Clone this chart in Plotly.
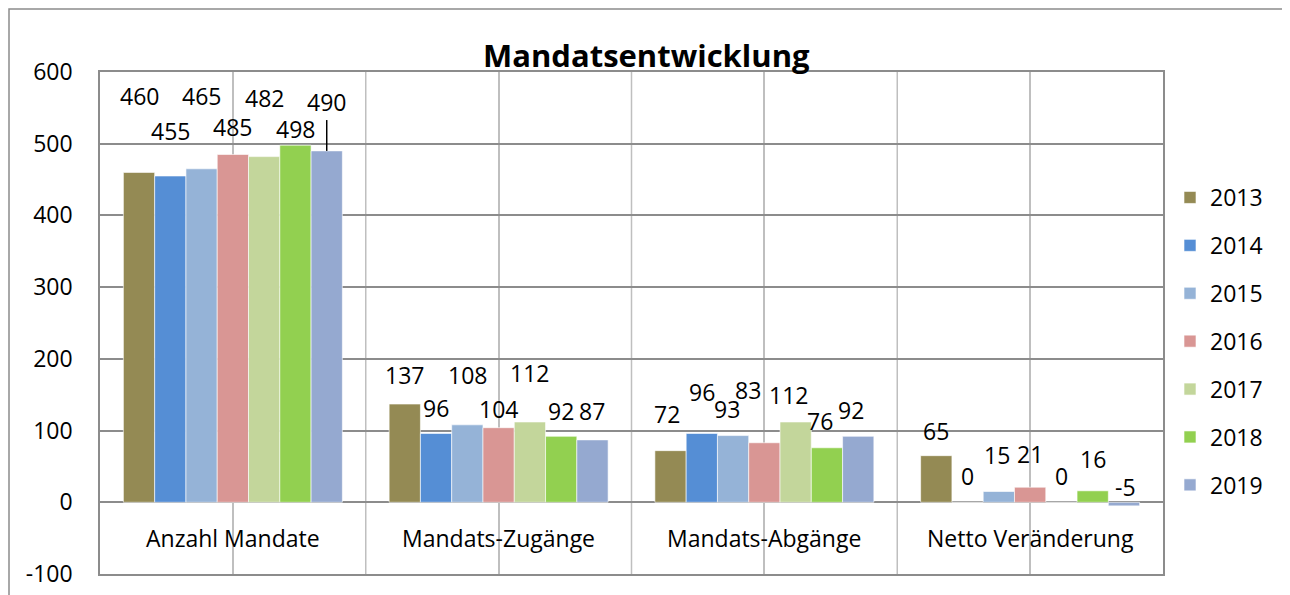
import plotly.graph_objects as go

categories = ["Anzahl Mandate", "Mandats-Zugänge", "Mandats-Abgänge", "Netto Veränderung"]
years = ["2013", "2014", "2015", "2016", "2017", "2018", "2019"]
v2013 = [460, 137, 72, 65]
v2014 = [455, 96, 96, 0]
v2015 = [465, 108, 93, 15]
v2016 = [485, 104, 83, 21]
v2017 = [482, 112, 112, 0]
v2018 = [498, 92, 76, 16]
v2019 = [490, 87, 92, -5]
series = [v2013, v2014, v2015, v2016, v2017, v2018, v2019]
colors = ["#948A54", "#558ED5", "#95B3D7", "#D99694", "#C3D69B", "#92D050", "#95A9D0"]
y_ticks = [-100, 0, 100, 200, 300, 400, 500, 600]

# label offsets above bar value (data units), per year, per category
label_dy = [
    [106, 40, 51, 35],
    [63, 36, 58, 36],
    [101, 70, 37, 51],
    [38, 26, 74, 47],
    [82, 68, 38, 36],
    [22, 35, 38, 45],
    [68, 40, 37, 27],
]
# horizontal label shifts (px)
label_dx = [
    [0, 0, -4, 0],
    [0, 0, 0, 0],
    [0, 0, -6, -2],
    [0, 0, -16, 0],
    [0, 0, -7, 0],
    [0, 0, -7, 0],
    [0, 0, -7, 2],
]

FONT = "Open Sans"
FS = 23
OX, OY = 8, 8  # page body margin compensation
W, H = 1290 - OX, 595 - OY
L, R, T, B = 100 - OX, 1163 - OX, 72 - OY, 574 - OY
BARGAP = 0.176


def px2paper_x(px):
    return (px - OX - L) / (R - L)


def px2paper_y(py):
    return (B - (py - OY)) / (B - T)


fig = go.Figure()
for k, (yr, vals, col) in enumerate(zip(years, series, colors)):
    fig.add_trace(go.Bar(
        x=list(range(len(categories))), y=vals, name=yr,
        marker=dict(color=col, line=dict(color="rgba(255,255,255,0.6)", width=1)),
        legendgroup=yr,
    ))

annotations = []
nser = len(years)
w = (1 - BARGAP) / nser
for k, vals in enumerate(series):
    for i, v in enumerate(vals):
        annotations.append(dict(
            x=i + (k - (nser - 1) / 2) * w, y=v + label_dy[k][i], xref="x", yref="y",
            text=str(v), showarrow=False, xshift=label_dx[k][i],
            font=dict(family=FONT, size=FS, color="#000000"),
        ))
# leader line for 2019 label in first category
k = 6
fig.add_shape(type="line", xref="x", yref="y",
              x0=0 + (k - 3) * w, x1=0 + (k - 3) * w,
              y0=series[k][0], y1=series[k][0] + 43,
              line=dict(color="#000000", width=1.5))

for i, c in enumerate(categories):
    annotations.append(dict(x=i, y=-50, xref="x", yref="y", text=c, showarrow=False,
                            font=dict(family=FONT, size=FS, color="#000000")))

annotations.append(dict(x=px2paper_x(646), y=px2paper_y(55), xref="paper", yref="paper",
                        xanchor="center", yanchor="middle",
                        text="<b>Mandatsentwicklung</b>", showarrow=False,
                        font=dict(family=FONT, size=31, color="#000000")))

# category boundaries gridlines
for i in range(1, len(categories)):
    fig.add_shape(type="line", xref="x", yref="paper", x0=i - 0.5, x1=i - 0.5, y0=0, y1=1,
                  line=dict(color="#BFBFBF", width=1.5), layer="below")

# outer chart border
fig.add_shape(type="path", xref="paper", yref="paper",
              path=f"M {px2paper_x(9)},{px2paper_y(610)} L {px2paper_x(9)},{px2paper_y(9)} "
                   f"L {px2paper_x(1288)},{px2paper_y(9)} L {px2paper_x(1288)},{px2paper_y(610)}",
              line=dict(color="#8C8C8C", width=1.5))

fig.update_layout(
    width=W, height=H,
    margin=dict(l=L, r=W - R, t=T, b=H - B, autoexpand=False),
    paper_bgcolor="white", plot_bgcolor="white",
    barmode="group", bargap=BARGAP, bargroupgap=0,
    showlegend=True,
    legend=dict(x=px2paper_x(1170), y=px2paper_y(176), xanchor="left", yanchor="top",
                font=dict(family=FONT, size=FS, color="#000000"),
                tracegroupgap=15, bgcolor="rgba(0,0,0,0)"),
    annotations=annotations,
    font=dict(family=FONT, size=FS, color="#000000"),
)
fig.update_xaxes(
    type="linear", range=[-0.5, len(categories) - 0.5], automargin=False,
    showticklabels=False, tickvals=list(range(len(categories))),
    showgrid=True, gridcolor="#BFBFBF", gridwidth=1.5,
    showline=True, linecolor="#8C8C8C", linewidth=1.5, mirror=True, zeroline=False,
)
fig.update_yaxes(
    range=[-100, 600], tickvals=y_ticks, ticktext=[str(t) for t in y_ticks], automargin=False,
    showgrid=True, gridcolor="#8C8C8C", gridwidth=1.5,
    zeroline=True, zerolinecolor="#8C8C8C", zerolinewidth=1.5,
    showline=True, linecolor="#8C8C8C", linewidth=1.5, mirror=True,
    ticks="outside", ticklen=21, tickcolor="rgba(0,0,0,0)",
    tickfont=dict(family=FONT, size=FS, color="#000000"),
)

fig.write_html("out.html")
